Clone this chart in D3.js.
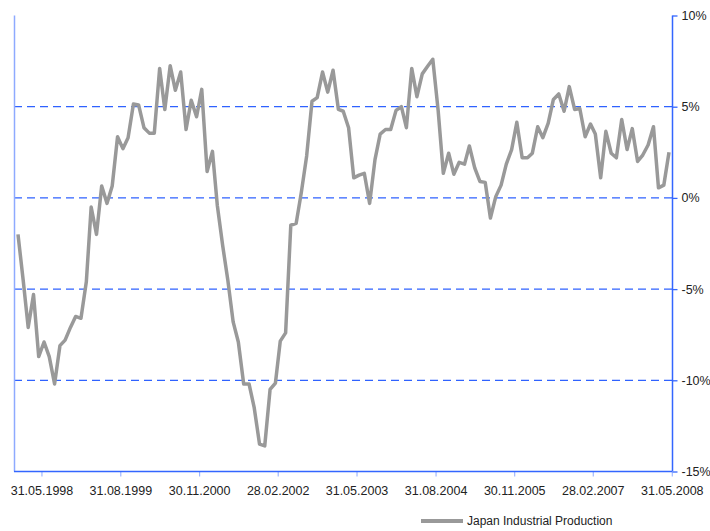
<!DOCTYPE html>
<html>
<head>
<meta charset="utf-8">
<script src="https://cdn.jsdelivr.net/npm/d3@7/dist/d3.min.js"></script>
<style>
  html, body { margin: 0; padding: 0; background: #fff; }
  svg text { font-family: "Liberation Sans", Arial, sans-serif; }
</style>
</head>
<body>
<svg id="chart" width="710" height="531"></svg>
<script>
// ---- data ----
const seriesName = "Japan Industrial Production";
const startMonth = "1998-01";
const endMonth = "2008-05";
const values = [
  -2.0, -4.6, -7.1, -5.3, -8.7, -7.9, -8.7, -10.2, -8.1, -7.8,
  -7.1, -6.5, -6.6, -4.6, -0.5, -2.0, 0.65, -0.3, 0.65, 3.35,
  2.7, 3.3, 5.15, 5.1, 3.85, 3.55, 3.55, 7.1, 4.85, 7.25,
  5.9, 6.9, 3.75, 5.35, 4.45, 5.95, 1.45, 2.55, -0.4, -2.6,
  -4.5, -6.8, -7.9, -10.2, -10.2, -11.5, -13.5, -13.6, -10.5, -10.15,
  -7.85, -7.4, -1.5, -1.4, 0.3, 2.3, 5.3, 5.5, 6.9, 5.8,
  7.0, 4.85, 4.75, 3.85, 1.1, 1.25, 1.35, -0.3, 2.1, 3.5,
  3.75, 3.75, 4.8, 5.0, 3.85, 7.1, 5.55, 6.8, 7.2, 7.6,
  4.8, 1.35, 2.45, 1.3, 1.95, 1.85, 2.85, 1.65, 0.9, 0.85,
  -1.1, 0.07, 0.7, 1.85, 2.65, 4.15, 2.2, 2.2, 2.45, 3.9,
  3.3, 4.1, 5.4, 5.7, 4.75, 6.1, 4.85, 4.9, 3.35, 4.05,
  3.5, 1.1, 3.65, 2.45, 2.2, 4.3, 2.65, 3.8, 2.0, 2.35,
  2.9, 3.9, 0.55, 0.7, 2.5
];
const xTickLabels = ["31.05.1998","31.08.1999","30.11.2000","28.02.2002","31.05.2003","31.08.2004","30.11.2005","28.02.2007","31.05.2008"];
const yTicks = [-15, -10, -5, 0, 5, 10];
const gridTicks = [-10, -5, 0, 5];

// ---- build ----
const parseMonth = d3.timeParse("%Y-%m");
const parseTick = d3.timeParse("%d.%m.%Y");
const months = d3.timeMonth.range(parseMonth(startMonth), d3.timeMonth.offset(parseMonth(endMonth), 1));
const data = months.map((m, i) => ({ date: d3.timeDay.offset(m, 14), value: values[i] }));

const svg = d3.select("#chart");
const plotLeft = 14, plotRight = 672, plotTop = 15.5, plotBottom = 471.5;

const x = d3.scaleTime()
  .domain([data[0].date, data[data.length - 1].date])
  .range([18, 669]);
const y = d3.scaleLinear().domain([-15, 10]).range([plotBottom, plotTop]);

const axisBlue = "#3366ff";

// gridlines
svg.append("g").selectAll("line").data(gridTicks).join("line")
  .attr("x1", plotLeft).attr("x2", plotRight)
  .attr("y1", d => y(d)).attr("y2", d => y(d))
  .attr("stroke", "#2f62ff").attr("stroke-width", 1.3)
  .attr("stroke-dasharray", "8,5");

// left border
svg.append("line")
  .attr("x1", plotLeft + 0.5).attr("x2", plotLeft + 0.5).attr("y1", plotTop).attr("y2", plotBottom)
  .attr("stroke", "#8eaaff").attr("stroke-width", 1.5);

// bottom axis
const tickDates = xTickLabels.map(parseTick);
const xAxis = d3.axisBottom(x)
  .tickValues(tickDates)
  .tickFormat((d, i) => xTickLabels[i])
  .tickSize(5).tickPadding(10).tickSizeOuter(0);
const gx = svg.append("g").attr("transform", `translate(0,${plotBottom})`).call(xAxis);
gx.select(".domain").remove();
gx.append("line").attr("x1", plotLeft).attr("x2", plotRight).attr("y1", 0).attr("y2", 0)
  .attr("stroke", axisBlue).attr("stroke-width", 1.3);
gx.selectAll(".tick line").attr("stroke", "#8eaaff");
gx.selectAll(".tick text").attr("fill", "#222").attr("font-size", 12.5);

// right axis
const yAxis = d3.axisRight(y)
  .tickValues(yTicks)
  .tickFormat(d => d + "%")
  .tickSize(5).tickPadding(4).tickSizeOuter(0);
const gy = svg.append("g").attr("transform", `translate(${plotRight + 0.5},0)`).call(yAxis);
gy.select(".domain").attr("stroke", axisBlue).attr("stroke-width", 1.5)
  .attr("d", `M0,${plotTop}V${plotBottom}`);
gy.selectAll(".tick line").attr("stroke", axisBlue).attr("stroke-width", 1.3);
gy.selectAll(".tick text").attr("fill", "#222").attr("font-size", 12.5);

// series line
const line = d3.line().x(d => x(d.date)).y(d => y(d.value));
svg.append("path").datum(data)
  .attr("d", line)
  .attr("fill", "none")
  .attr("stroke", "#999999")
  .attr("stroke-width", 3.5)
  .attr("stroke-linejoin", "round");

// legend
const lg = svg.append("g").attr("transform", "translate(421,521)");
lg.append("line").attr("x1", 0).attr("x2", 42).attr("y1", 0).attr("y2", 0)
  .attr("stroke", "#999999").attr("stroke-width", 4);
lg.append("text").attr("x", 46).attr("y", 4).attr("font-size", 12).attr("fill", "#222")
  .text(seriesName);
</script>
</body>
</html>
